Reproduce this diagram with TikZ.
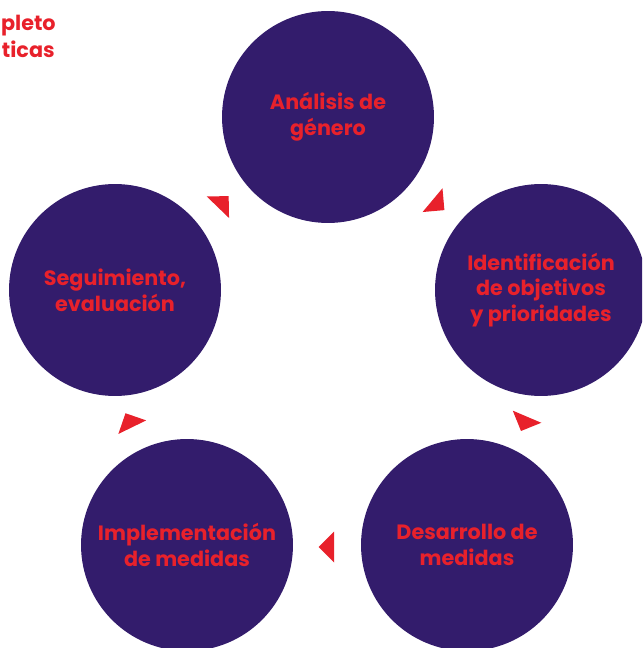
\documentclass[tikz,border=0pt]{standalone}
\usepackage{fontspec}
\setmainfont{Poppins}
\usetikzlibrary{calc}
\definecolor{ciclopurple}{RGB}{51,28,108}
\definecolor{ciclored}{RGB}{232,33,43}
\tikzset{
  etapa/.style={circle, fill=ciclopurple, minimum size=4.24cm, inner sep=0pt,
    align=center, text=ciclored, font=\bfseries\fontsize{11.8}{14.7}\selectfont},
  flecha/.pic={\fill[ciclored] (10.3,0) -- (-5.2,15.5) -- (-5.2,-15.5) -- cycle;},
  titulo/.style={anchor=base east, inner sep=0pt, text=ciclored,
    font=\bfseries\fontsize{11.8}{14.7}\selectfont}
}
\begin{document}
\begin{tikzpicture}[x=0.02cm,y=-0.02cm]
  \useasboundingbox (0,0) rectangle (642,648);
  \clip (0,0) rectangle (642,648);
  % titulo cortado
  \node[titulo] (tit1) at (56,31) {pleto};
  \node[titulo] (tit2) at (55,58) {ticas};
  % etapas del ciclo
  \node[etapa] (ana) at (328,117) {Análisis de\\género};
  \node[etapa] (ide) at (541,290) {Identificación\\de objetivos\\y prioridades};
  \node[etapa] (des) at (467,545) {Desarrollo de\\medidas};
  \node[etapa] (imp) at (187,545) {Implementación\\de medidas};
  \node[etapa] (seg) at (115,290) {Seguimiento,\\evaluación};
  % flechas
  \pic[rotate=46] at ($(seg)!.5!(ana)$) {flecha};
  \pic[rotate=-40] at ($(ana)!.5!(ide)+(2,0)$) {flecha};
  \pic[rotate=-113] at ($(ide)!.5!(des)+(21,4)$) {flecha};
  \pic[rotate=180] at ($(des)!.5!(imp)+(2,2)$) {flecha};
  \pic[rotate=116] at ($(imp)!.5!(seg)+(-21,5)$) {flecha};
\end{tikzpicture}
\end{document}
